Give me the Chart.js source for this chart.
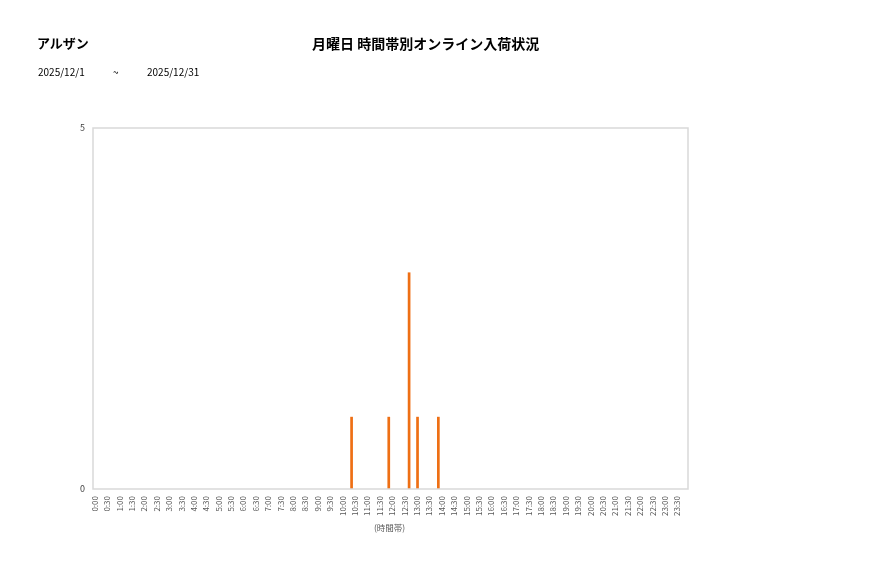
<!DOCTYPE html>
<html>
<head>
<meta charset="utf-8">
<script src="https://cdn.jsdelivr.net/npm/chart.js@4"></script>
<style>
  body { margin: 0; background: #fff; font-family: "Noto Sans CJK JP", "Noto Sans", sans-serif; }
  #wrap { position: relative; width: 877px; height: 578px; }
  #chart { position: absolute; left: 0; top: 0; }
  .txt { position: absolute; white-space: nowrap; color: #000; }
</style>
</head>
<body>
<div id="wrap">
  <canvas id="chart" width="877" height="578"></canvas>
  <div class="txt" id="shop" style="left:37px;top:33px;font-size:13px;font-weight:bold;"></div>
  <div class="txt" id="title" style="left:312px;top:33px;font-size:14px;font-weight:bold;"></div>
  <div class="txt" id="dateFrom" style="left:38px;top:64px;font-size:10px;"></div>
  <div class="txt" style="left:113px;top:64px;font-size:10px;">~</div>
  <div class="txt" id="dateTo" style="left:147px;top:64px;font-size:10px;"></div>
  <div class="txt" id="xTitle" style="left:374px;top:521px;font-size:8.5px;color:#595959;"></div>
</div>
<script>
const shopName = "アルザン";
const chartTitle = "月曜日 時間帯別オンライン入荷状況";
const periodFrom = "2025/12/1";
const periodTo = "2025/12/31";
const xAxisTitle = "(時間帯)";

const timeSlots = [
  "0:00", "0:30", "1:00", "1:30", "2:00", "2:30", "3:00", "3:30",
  "4:00", "4:30", "5:00", "5:30", "6:00", "6:30", "7:00", "7:30",
  "8:00", "8:30", "9:00", "9:30", "10:00", "10:30", "11:00", "11:30",
  "12:00", "12:30", "13:00", "13:30", "14:00", "14:30", "15:00", "15:30",
  "16:00", "16:30", "17:00", "17:30", "18:00", "18:30", "19:00", "19:30",
  "20:00", "20:30", "21:00", "21:30", "22:00", "22:30", "23:00", "23:30",
];

// one series per Monday of the period, drawn side by side in each slot
const mondayLabels = ["12/1", "12/8", "12/15", "12/22", "12/29"];
const week1 = [
  0, 0, 0, 0, 0, 0, 0, 0, 0, 0, 0, 0, 0, 0, 0, 0,
  0, 0, 0, 0, 0, 1, 0, 0, 1, 0, 0, 0, 1, 0, 0, 0,
  0, 0, 0, 0, 0, 0, 0, 0, 0, 0, 0, 0, 0, 0, 0, 0,
];
const week2 = [
  0, 0, 0, 0, 0, 0, 0, 0, 0, 0, 0, 0, 0, 0, 0, 0,
  0, 0, 0, 0, 0, 0, 0, 0, 0, 0, 1, 0, 0, 0, 0, 0,
  0, 0, 0, 0, 0, 0, 0, 0, 0, 0, 0, 0, 0, 0, 0, 0,
];
const week3 = [
  0, 0, 0, 0, 0, 0, 0, 0, 0, 0, 0, 0, 0, 0, 0, 0,
  0, 0, 0, 0, 0, 0, 0, 0, 0, 3, 0, 0, 0, 0, 0, 0,
  0, 0, 0, 0, 0, 0, 0, 0, 0, 0, 0, 0, 0, 0, 0, 0,
];
const week4 = [
  0, 0, 0, 0, 0, 0, 0, 0, 0, 0, 0, 0, 0, 0, 0, 0,
  0, 0, 0, 0, 0, 0, 0, 0, 0, 0, 0, 0, 0, 0, 0, 0,
  0, 0, 0, 0, 0, 0, 0, 0, 0, 0, 0, 0, 0, 0, 0, 0,
];
const week5 = [
  0, 0, 0, 0, 0, 0, 0, 0, 0, 0, 0, 0, 0, 0, 0, 0,
  0, 0, 0, 0, 0, 0, 0, 0, 0, 0, 0, 0, 0, 0, 0, 0,
  0, 0, 0, 0, 0, 0, 0, 0, 0, 0, 0, 0, 0, 0, 0, 0,
];
const yTicks = [0, 5];

document.getElementById("shop").textContent = shopName;
document.getElementById("title").textContent = chartTitle;
document.getElementById("dateFrom").textContent = periodFrom;
document.getElementById("dateTo").textContent = periodTo;
document.getElementById("xTitle").textContent = xAxisTitle;

const barColor = "#EE6F14";
const tickFont = { family: "'Noto Sans CJK JP', sans-serif", size: 8 };

const plotBorder = {
  id: "plotBorder",
  afterDraw(chart) {
    const { ctx, chartArea: a } = chart;
    ctx.save();
    ctx.strokeStyle = "#d9d9d9";
    ctx.lineWidth = 1.5;
    ctx.strokeRect(a.left, a.top, a.right - a.left, a.bottom - a.top);
    ctx.restore();
  },
};

const makeSet = (label, data) => ({
  label,
  data,
  backgroundColor: barColor,
  borderWidth: 0,
  categoryPercentage: 1.6,
  barPercentage: 0.68,
});

const weeks = [week1, week2, week3, week4, week5];

new Chart(document.getElementById("chart"), {
  type: "bar",
  data: {
    labels: timeSlots,
    datasets: weeks.map((w, i) => makeSet(mondayLabels[i], w)),
  },
  options: {
    responsive: false,
    animation: false,
    layout: { padding: { left: 60, right: 189, top: 128, bottom: 49 } },
    plugins: { legend: { display: false }, tooltip: { enabled: false } },
    scales: {
      x: {
        grid: { display: false, drawTicks: false },
        border: { display: false },
        ticks: {
          font: tickFont,
          color: "#595959",
          minRotation: 90,
          maxRotation: 90,
          autoSkip: false,
          padding: 7,
          labelOffset: -4.5,
        },
        afterFit(scale) { scale.height = 40; },
      },
      y: {
        min: 0,
        max: 5,
        afterBuildTicks(scale) {
          scale.ticks = yTicks.map((v) => ({ value: v }));
        },
        grid: { display: false, drawTicks: false },
        border: { display: false },
        ticks: { font: { ...tickFont, size: 9 }, color: "#404040", padding: 8 },
        afterFit(scale) { scale.width = 33; },
      },
    },
  },
  plugins: [plotBorder],
});
</script>
</body>
</html>
